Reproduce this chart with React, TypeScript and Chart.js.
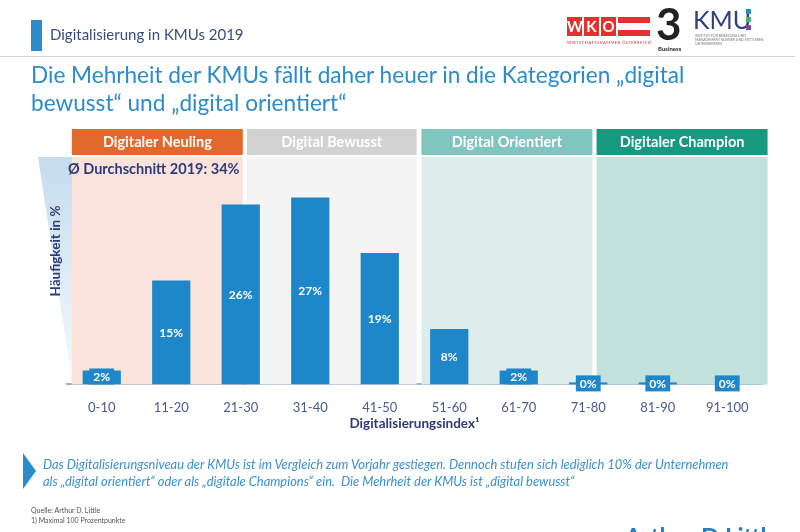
import React, { useEffect, useRef } from "react";
import { Chart, registerables } from "chart.js";
Chart.register(...registerables);

const categories = ["0-10", "11-20", "21-30", "31-40", "41-50", "51-60", "61-70", "71-80", "81-90", "91-100"];
const shares = [2, 15, 26, 27, 19, 8, 2, 0, 0, 0];
const bandNames = ["Digitaler Neuling", "Digital Bewusst", "Digital Orientiert", "Digitaler Champion"];
const bandStart = [-0.43, 2.09, 4.6, 7.12];
const bandEnd = [2.03, 4.53, 7.06, 9.58];
const bandHeaderColors = ["#E2692C", "#D2D2D2", "#80C6BF", "#17997F"];
const bandFillColors = ["#FAE3DA", "#F4F4F4", "#DCEDEC", "#C3E1DC"];
const averageLabel = "Ø Durchschnitt 2019: 34%";
const yTitle = "Häufigkeit in %";
const xTitle = "Digitalisierungsindex¹";

const NAVY = "#2E3B7A";
const BAR = "#1E87C9";
const FONT = "Lato, 'Open Sans', sans-serif";

const decoPlugin = {
  id: "deco",
  beforeDatasetsDraw(chart: any) {
    const { ctx, chartArea, scales } = chart;
    const x = scales.x;
    ctx.save();
    // wedge behind y title
    const g = ctx.createLinearGradient(0, chartArea.top, 0, chartArea.bottom);
    g.addColorStop(0, "#C4DCEE");
    g.addColorStop(1, "rgba(196,220,238,0.15)");
    ctx.fillStyle = g;
    ctx.beginPath();
    ctx.moveTo(38, chartArea.top + 1);
    ctx.lineTo(chartArea.left + 5, chartArea.top + 1);
    ctx.lineTo(chartArea.left + 5, chartArea.bottom - 4);
    ctx.closePath();
    ctx.fill();
    // bands and headers
    for (let i = 0; i < bandNames.length; i++) {
      const x0 = x.getPixelForValue(bandStart[i]);
      const x1 = x.getPixelForValue(bandEnd[i]);
      ctx.fillStyle = bandFillColors[i];
      ctx.fillRect(x0, chartArea.top + 1, x1 - x0, chartArea.bottom - chartArea.top - 1);
      ctx.fillStyle = bandHeaderColors[i];
      ctx.fillRect(x0, chartArea.top - 27, x1 - x0, 26);
      ctx.fillStyle = "#FFFFFF";
      ctx.font = "bold 14.5px " + FONT;
      ctx.textAlign = "center";
      ctx.textBaseline = "middle";
      ctx.fillText(bandNames[i], (x0 + x1) / 2, chartArea.top - 14);
    }
    // average text
    ctx.fillStyle = NAVY;
    ctx.font = "bold 14.5px " + FONT;
    ctx.textAlign = "left";
    ctx.textBaseline = "middle";
    ctx.fillText(averageLabel, chartArea.left + 1, chartArea.top + 13);
    // x title
    ctx.textAlign = "center";
    ctx.font = "bold 13.5px " + FONT;
    ctx.fillText(xTitle, (chartArea.left + chartArea.right) / 2, chartArea.bottom + 39);
    // y title
    ctx.translate(56, 251);
    ctx.rotate(-Math.PI / 2);
    ctx.fillText(yTitle, 0, 0);
    ctx.restore();
  },
  afterDatasetsDraw(chart: any) {
    const { ctx } = chart;
    const meta = chart.getDatasetMeta(0);
    ctx.save();
    ctx.font = "bold 12px " + FONT;
    ctx.textAlign = "center";
    ctx.textBaseline = "middle";
    meta.data.forEach((el: any, i: number) => {
      const v = shares[i];
      const label = v + "%";
      const h = el.base - el.y;
      let cy = el.y + h / 2;
      if (h < 17) {
        cy = el.base - Math.max(h / 2, 1) - (v > 0 ? 1 : 0);
        const tw = ctx.measureText(label).width + 8;
        ctx.fillStyle = BAR;
        if (v === 0 && i < 9) ctx.fillRect(el.x - el.width / 2, el.base - 2, el.width, 2);
        ctx.fillRect(el.x - tw / 2, cy - 8, tw, 16);
      }
      ctx.fillStyle = "#FFFFFF";
      ctx.fillText(label, el.x, cy + 0.5);
    });
    ctx.restore();
  },
};

function ChartCanvas() {
  const ref = useRef<HTMLCanvasElement>(null);
  useEffect(() => {
    const chart = new Chart(ref.current as HTMLCanvasElement, {
      type: "bar",
      data: {
        labels: categories,
        datasets: [
          {
            data: shares,
            backgroundColor: BAR,
            barPercentage: 0.55,
            categoryPercentage: 1,
          },
        ],
      },
      options: {
        animation: false,
        responsive: false,
        maintainAspectRatio: false,
        layout: { padding: { left: 67, right: 38, top: 156, bottom: 100 } },
        plugins: { legend: { display: false }, tooltip: { enabled: false } },
        scales: {
          x: {
            grid: { display: false, drawTicks: false },
            border: { display: true, color: "#A9B0CF", width: 2 },
            ticks: { color: "#4C5A8C", font: { family: FONT, size: 13 }, padding: 16 },
            title: { display: false },
          },
          y: { display: false, min: 0, max: 33 },
        },
      },
      plugins: [decoPlugin],
    } as any);
    return () => chart.destroy();
  }, []);
  return <canvas ref={ref} width={800} height={532} style={{ position: "absolute", left: 0, top: 0 }} />;
}

export default function App() {
  return (
    <div
      style={{
        position: "fixed",
        left: 0,
        top: 0,
        width: 800,
        height: 532,
        overflow: "hidden",
        background: "#FFFFFF",
        fontFamily: FONT,
      }}
    >
      <ChartCanvas />
      {/* header */}
      <div style={{ position: "absolute", left: 31, top: 20, width: 11, height: 31, background: "#2A8CCB" }} />
      <div style={{ position: "absolute", left: 50, top: 25, fontSize: 15, color: "#3C4C7C" }}>
        Digitalisierung in KMUs 2019
      </div>
      <div style={{ position: "absolute", left: 0, top: 56, width: 795, height: 1, background: "#D8D8D8" }} />
      <div
        style={{
          position: "absolute",
          left: 31,
          top: 61,
          width: 760,
          fontSize: 22.6,
          lineHeight: "28px",
          color: "#2B8BCB",
          whiteSpace: "nowrap",
        }}
      >
        Die Mehrheit der KMUs fällt daher heuer in die Kategorien „digital
        <br />
        bewusst“ und „digital orientiert“
      </div>
      {/* logos */}
      <div style={{ position: "absolute", left: 567, top: 17, display: "flex" }}>
        {["W", "K", "O"].map((c) => (
          <div
            key={c}
            style={{
              width: 15,
              height: 19,
              marginRight: 2,
              background: "#E2312E",
              color: "#fff",
              fontWeight: "bold",
              fontSize: 15,
              lineHeight: "19px",
              textAlign: "center",
            }}
          >
            {c}
          </div>
        ))}
        <div style={{ width: 32, height: 19, display: "flex", flexDirection: "column" }}>
          <div style={{ height: 6, background: "#E2312E" }} />
          <div style={{ height: 7, background: "#fff" }} />
          <div style={{ height: 6, background: "#E2312E" }} />
        </div>
      </div>
      <div style={{ position: "absolute", left: 567, top: 40, fontSize: 4, color: "#C33", letterSpacing: 0.5 }}>
        WIRTSCHAFTSKAMMER ÖSTERREICH
      </div>
      <div style={{ position: "absolute", left: 656, top: -2, fontSize: 44, fontWeight: "bold", color: "#222", lineHeight: "50px" }}>
        3
      </div>
      <div style={{ position: "absolute", left: 658, top: 45, fontSize: 6, fontWeight: "bold", color: "#222" }}>Business</div>
      <div style={{ position: "absolute", left: 693, top: 4, fontSize: 25, color: "#2F3F84", lineHeight: "30px" }}>KMU</div>
      <div style={{ position: "absolute", left: 746, top: 9 }}>
        <div style={{ width: 5, height: 5, background: "#2A8CCB", marginBottom: 3 }} />
        <div style={{ width: 5, height: 5, background: "#4DB36A", marginBottom: 3 }} />
        <div style={{ width: 5, height: 5, background: "#7A4C9E" }} />
      </div>
      <div style={{ position: "absolute", left: 695, top: 34, fontSize: 3.5, color: "#777", lineHeight: "4px", width: 70 }}>
        INSTITUT FÜR BERATUNG UND
        <br />
        MANAGEMENT KLEINER UND MITTLERER
        <br />
        UNTERNEHMEN
      </div>
      {/* footer */}
      <div
        style={{
          position: "absolute",
          left: 23,
          top: 453,
          width: 0,
          height: 0,
          borderTop: "18px solid transparent",
          borderBottom: "18px solid transparent",
          borderLeft: "13px solid #2A8CCB",
        }}
      />
      <div
        style={{
          position: "absolute",
          left: 43,
          top: 456,
          fontSize: 12.9,
          lineHeight: "17px",
          fontStyle: "italic",
          color: "#3A90D0",
          whiteSpace: "nowrap",
        }}
      >
        Das Digitalisierungsniveau der KMUs ist im Vergleich zum Vorjahr gestiegen. Dennoch stufen sich lediglich 10% der Unternehmen
        <br />
        als „digital orientiert“ oder als „digitale Champions“ ein.&nbsp; Die Mehrheit der KMUs ist „digital bewusst“
      </div>
      <div style={{ position: "absolute", left: 31, top: 505, fontSize: 7, lineHeight: "10px", color: "#555" }}>
        Quelle: Arthur D. Little
        <br />
        1) Maximal 100 Prozentpunkte
      </div>
      <div style={{ position: "absolute", left: 625, top: 523, fontSize: 24, fontWeight: "bold", color: "#2A7CC0", lineHeight: "28px" }}>
        Arthur D Little
      </div>
    </div>
  );
}
